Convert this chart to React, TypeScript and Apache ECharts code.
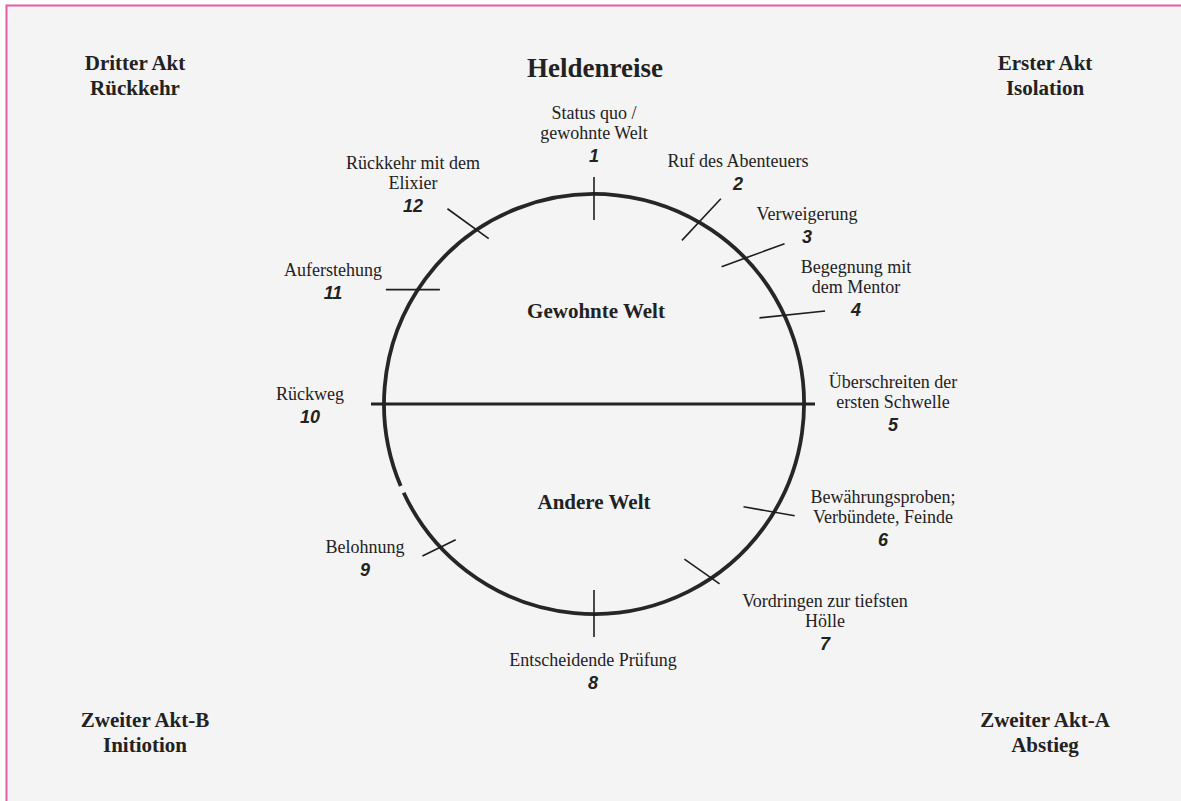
import React, { useEffect, useRef } from "react";
import * as echarts from "echarts";

// ---- data ----
const title = "Heldenreise";
const stageNames: string[][] = [
  ["Status quo /", "gewohnte Welt"],
  ["Ruf des Abenteuers"],
  ["Verweigerung"],
  ["Begegnung mit", "dem Mentor"],
  ["Überschreiten der", "ersten Schwelle"],
  ["Bewährungsproben;", "Verbündete, Feinde"],
  ["Vordringen zur tiefsten", "Hölle"],
  ["Entscheidende Prüfung"],
  ["Belohnung"],
  ["Rückweg"],
  ["Auferstehung"],
  ["Rückkehr mit dem", "Elixier"],
];
const stageNumbers = ["1", "2", "3", "4", "5", "6", "7", "8", "9", "10", "11", "12"];
// position of each stage on the circle (degrees, counter-clockwise from 3 o'clock)
const stageAngles = [90, 60, 44, 25, 0, -31, -56, -90, -137, 180, 147, 124];
const actLabels: string[][] = [
  ["Dritter Akt", "Rückkehr"],
  ["Erster Akt", "Isolation"],
  ["Zweiter Akt-B", "Initiotion"],
  ["Zweiter Akt-A", "Abstieg"],
];
const worldLabels = ["Gewohnte Welt", "Andere Welt"];

// ---- layout ----
const CX = 594;
const CY = 404;
const R = 210;
// tick direction (deg), inner length, outer length
const tickDir = [90, 47, 20, 6, 0, -10, -35, 90, 26, 0, 0, -36];
const tickIn = [26, 25, 25, 25, 0, 31, 33, 24, 17, 0, 22, 15];
const tickOut = [17, 32, 42, 41, 0, 21, 10, 23, 20, 0, 32, 36];
// label anchor: center x, first-line y
const labelX = [594, 738, 807, 856, 893, 883, 825, 593, 365, 310, 333, 413];
const labelY = [113, 161, 214, 267, 382, 497, 601, 660, 547, 394, 270, 163];
const actPos = [
  [135, 63],
  [1045, 63],
  [145, 720],
  [1045, 720],
];
const worldPos = [
  [596, 311],
  [594, 502],
];

const SERIF = '"Liberation Serif", "Times New Roman", serif';
const SANS = '"Liberation Sans", Arial, sans-serif';
const INK = "#222";

export default function App() {
  const ref = useRef<HTMLDivElement>(null);
  useEffect(() => {
    if (!ref.current) return;
    const chart = echarts.init(ref.current, undefined, { renderer: "svg" });
    const els: any[] = [];
    // background + border
    els.push({
      type: "rect",
      shape: { x: 6.5, y: 5.5, width: 1200, height: 820 },
      style: { fill: "#f4f4f4", stroke: "#df5fa4", lineWidth: 2 },
      z: 0,
    });
    // circle with tiny gap
    const g1 = (157 * Math.PI) / 180;
    const g2 = ((155 + 360) * Math.PI) / 180;
    els.push({
      type: "arc",
      shape: { cx: CX, cy: CY, r: R, startAngle: g1, endAngle: g2, clockwise: true },
      style: { stroke: "#262626", lineWidth: 3.8, fill: "none" },
      z: 2,
    });
    // divider line
    els.push({
      type: "line",
      shape: { x1: CX - R - 13, y1: CY, x2: CX + R + 11, y2: CY },
      style: { stroke: "#222", lineWidth: 3 },
      z: 3,
    });
    // ticks
    stageAngles.forEach((a, i) => {
      if (tickIn[i] === 0 && tickOut[i] === 0) return;
      const ar = (a * Math.PI) / 180;
      const px = CX + R * Math.cos(ar);
      const py = CY - R * Math.sin(ar);
      const dr = (tickDir[i] * Math.PI) / 180;
      let dx = Math.cos(dr);
      let dy = -Math.sin(dr);
      const ox = Math.cos(ar);
      const oy = -Math.sin(ar);
      if (dx * ox + dy * oy < 0) {
        dx = -dx;
        dy = -dy;
      }
      els.push({
        type: "line",
        shape: {
          x1: px - dx * tickIn[i],
          y1: py - dy * tickIn[i],
          x2: px + dx * tickOut[i],
          y2: py + dy * tickOut[i],
        },
        style: { stroke: "#1e1e1e", lineWidth: 1.6 },
        z: 3,
      });
    });
    // stage labels
    stageNames.forEach((lines, i) => {
      lines.forEach((t, j) => {
        els.push({
          type: "text",
          x: labelX[i],
          y: labelY[i] + j * 20,
          style: {
            text: t,
            font: `18px ${SERIF}`,
            fill: INK,
            align: "center",
            verticalAlign: "middle",
          },
          z: 4,
        });
      });
      els.push({
        type: "text",
        x: labelX[i],
        y: labelY[i] + lines.length * 20 + 3,
        style: {
          text: stageNumbers[i],
          font: `italic bold 18px ${SANS}`,
          fill: INK,
          align: "center",
          verticalAlign: "middle",
        },
        z: 4,
      });
    });
    // act labels
    actLabels.forEach((lines, i) => {
      lines.forEach((t, j) => {
        els.push({
          type: "text",
          x: actPos[i][0],
          y: actPos[i][1] + j * 25,
          style: {
            text: t,
            font: `bold 21px ${SERIF}`,
            fill: INK,
            align: "center",
            verticalAlign: "middle",
          },
          z: 4,
        });
      });
    });
    // world labels
    worldLabels.forEach((t, i) => {
      els.push({
        type: "text",
        x: worldPos[i][0],
        y: worldPos[i][1],
        style: {
          text: t,
          font: `bold 21px ${SERIF}`,
          fill: INK,
          align: "center",
          verticalAlign: "middle",
        },
        z: 4,
      });
    });
    // title
    els.push({
      type: "text",
      x: 595,
      y: 68,
      style: {
        text: title,
        font: `bold 27px ${SERIF}`,
        fill: INK,
        align: "center",
        verticalAlign: "middle",
      },
      z: 4,
    });

    chart.setOption({
      animation: false,
      backgroundColor: "#ffffff",
      graphic: { elements: els },
    });
    return () => chart.dispose();
  }, []);
  return (
    <div
      ref={ref}
      style={{ position: "absolute", left: 0, top: 0, width: 1181, height: 801 }}
    />
  );
}
